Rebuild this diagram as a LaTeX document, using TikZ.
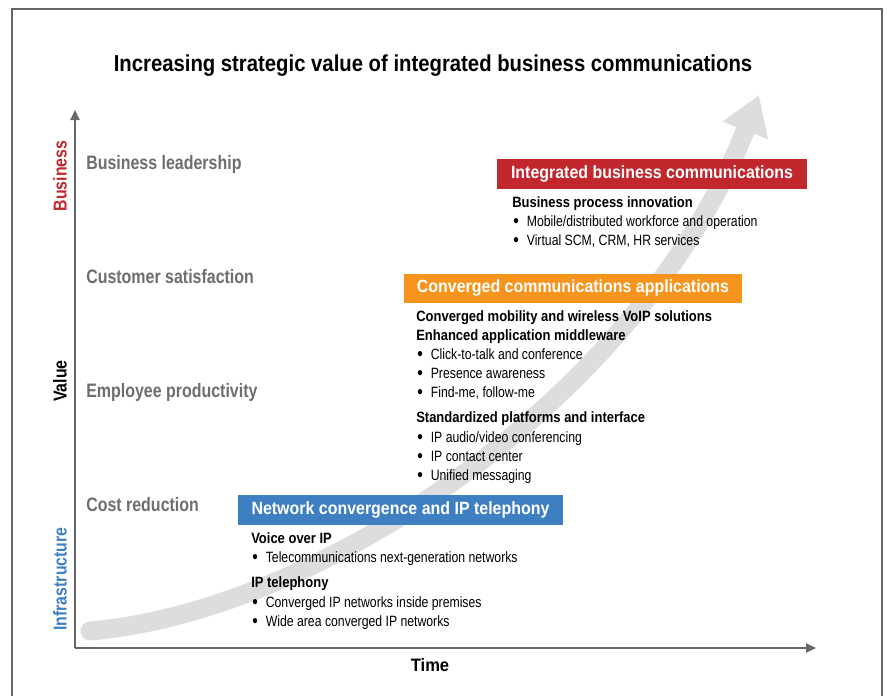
\documentclass[tikz,border=0pt]{standalone}
\usepackage{fontspec}
\setmainfont{Liberation Sans}[FakeStretch=0.82]
\newfontfamily\titlefont{Liberation Sans}[FakeStretch=0.88]
\newfontfamily\headfont{Liberation Sans}[FakeStretch=0.9]
\newfontfamily\subfont{Liberation Sans}[FakeStretch=0.87]
\newfontfamily\itemfont{Liberation Sans}[FakeStretch=0.82]
\newfontfamily\axisfont{Liberation Sans}[FakeStretch=0.85]
\newfontfamily\timefont{Liberation Sans}[FakeStretch=0.92]
\usetikzlibrary{arrows.meta,positioning}

\definecolor{ibcred}{HTML}{C1272D}
\definecolor{ccaorange}{HTML}{F7941D}
\definecolor{ncblue}{HTML}{3E7FC2}
\definecolor{levelgray}{HTML}{6D6E71}
\definecolor{bandgray}{HTML}{DCDDDE}
\definecolor{framegray}{HTML}{666666}

\tikzset{
  headbox/.style={fill=#1, text=white, inner sep=0pt,
    font=\fontsize{13.3}{15}\selectfont\headfont\bfseries},
  subhead/.style={anchor=base west, inner sep=0pt,
    font=\fontsize{11.2}{13}\selectfont\subfont\bfseries},
  bulitem/.style={anchor=base west, inner sep=0pt,
    font=\fontsize{11.2}{13}\selectfont\itemfont},
  level/.style={anchor=base west, inner sep=0pt, text=levelgray,
    font=\fontsize{14.6}{17}\selectfont\bfseries},
  axislabel/.style={rotate=90, inner sep=0pt,
    font=\fontsize{14}{16}\selectfont\axisfont\bfseries},
  axis/.style={framegray, line width=1.5pt, -{Triangle[length=7.5pt,width=6.75pt]}},
}
\newcommand{\bul}{\raisebox{-0.9pt}{\fontsize{14.5}{14}\selectfont\textbullet}\hspace{6pt}}

\begin{document}
\begin{tikzpicture}[x=0.75pt, y=-0.75pt]
  \useasboundingbox (0,0) rectangle (887,696);

  % frame
  \draw[framegray, line width=1.5pt] (12,696) -- (12,9) -- (882,9) -- (882,696);

  % rising band
  \coordinate (bandstart) at (90,631);
  \coordinate (bandtip) at (759,95);
  \draw[bandgray, line width=14.25pt, line cap=round,
        -{Triangle[length=28.5pt,width=34.5pt]}]
    (bandstart) .. controls (330,610) and (645,388) .. (bandtip);

  % axes
  \coordinate (O) at (75,648);
  \coordinate (ytop) at (75,110);
  \coordinate (xend) at (816,648);
  \draw[axis] (O) -- (ytop);
  \draw[axis] (O) -- (xend);

  \node[font=\fontsize{17.3}{20}\selectfont\titlefont\bfseries] (title) at (433,66)
    {Increasing strategic value of integrated business communications};
  \node[font=\fontsize{13.5}{16}\selectfont\timefont\bfseries, anchor=base] (time) at (430,671) {Time};
  \node[axislabel] (value) at (60,381) {Value};
  \node[axislabel, text=ibcred] (business) at (60,176) {Business};
  \node[axislabel, text=ncblue] (infra) at (60,579) {Infrastructure};

  % value levels
  \node[level] (lead) at (86,169) {Business leadership};
  \node[level] (cust) at (86,283) {Customer satisfaction};
  \node[level] (empl) at (86,397) {Employee productivity};
  \node[level] (cost) at (86,511) {Cost reduction};

  % integrated business communications
  \node[headbox=ibcred, minimum width=232.5pt, minimum height=22.5pt] (ibc) at (652,174)
    {Integrated business communications};
  \node[subhead] (bpi) at (512,207) {Business process innovation};
  \node[bulitem] (mob) at (513,226) {\bul Mobile/distributed workforce and operation};
  \node[bulitem] (virt) at (513,245) {\bul Virtual SCM, CRM, HR services};

  % converged communications applications
  \node[headbox=ccaorange, minimum width=253.5pt, minimum height=21.75pt] (cca) at (573,288)
    {Converged communications applications};
  \node[subhead] (cmw) at (416,321) {Converged mobility and wireless VoIP solutions};
  \node[subhead] (eam) at (416,340) {Enhanced application middleware};
  \node[bulitem] (ctt) at (417,359) {\bul Click-to-talk and conference};
  \node[bulitem] (pres) at (417,378) {\bul Presence awareness};
  \node[bulitem] (find) at (417,397) {\bul Find-me, follow-me};
  \node[subhead] (spi) at (416,422) {Standardized platforms and interface};
  \node[bulitem] (avc) at (417,442) {\bul IP audio/video conferencing};
  \node[bulitem] (ipcc) at (417,461) {\bul IP contact center};
  \node[bulitem] (umsg) at (417,480) {\bul Unified messaging};

  % network convergence and IP telephony
  \node[headbox=ncblue, minimum width=243.75pt, minimum height=22.5pt] (nc) at (400.5,510)
    {Network convergence and IP telephony};
  \node[subhead] (voip) at (251,543) {Voice over IP};
  \node[bulitem] (tngn) at (252,562) {\bul Telecommunications next-generation networks};
  \node[subhead] (ipt) at (251,587) {IP telephony};
  \node[bulitem] (cipn) at (252,607) {\bul Converged IP networks inside premises};
  \node[bulitem] (wacn) at (252,626) {\bul Wide area converged IP networks};
\end{tikzpicture}
\end{document}
